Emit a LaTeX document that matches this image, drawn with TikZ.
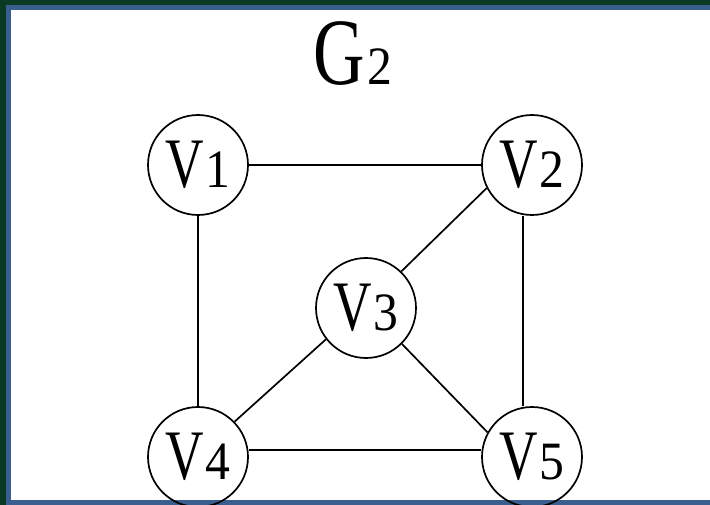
\documentclass[tikz,border=0pt]{standalone}
\usepackage{fontspec}
\setmainfont{Liberation Serif}
\usepackage{tikz}
\usetikzlibrary{positioning, calc}
\usepackage{xcolor}
\definecolor{framegreen}{RGB}{8,58,36}
\definecolor{frameblue}{RGB}{58,94,142}
\newcommand{\dig}[1]{\scalebox{0.92}[1]{\fontsize{54}{54}\selectfont #1}}
\newcommand{\vlab}[1]{\scalebox{0.75}[1]{\fontsize{71}{71}\selectfont V}\hspace{2pt}\dig{#1}}

\begin{document}
\begin{tikzpicture}[x=1pt, y=-1pt,
  vert/.style={circle, draw, line width=1.7pt, minimum size=100pt, inner sep=0pt},
  edge/.style={line width=1.7pt}]
  % frame
  \useasboundingbox (0,0) rectangle (710,505);
  \fill[framegreen] (0,0) rectangle (710,505);
  \fill[frameblue] (6,5) rectangle (710,505);
  \fill[white] (11,10) rectangle (710,500);
  % title
  \node[anchor=base, inner sep=0pt] (title) at (353,85)
    {\scalebox{0.75}[1]{\fontsize{95}{95}\selectfont G}\hspace{3pt}\dig{2}};
  % vertices
  \foreach \n/\x/\y in {1/198/165, 2/532/165, 3/366/308, 4/198/457, 5/532/457} {
    \node[vert] (v\n) at (\x,\y) {\vlab{\n}};
  }
  % edges
  \draw[edge] (v1.east) -- (v2.west);
  \draw[edge] (v1.south) -- (v4.north);
  \draw[edge] ([xshift=-9pt]v2.south) -- ([xshift=-9pt]v5.north);
  \draw[edge] ([yshift=7pt]v4.east) -- ([yshift=7pt]v5.west);
  \draw[edge] (v2.207) -- (v3.46);
  \draw[edge] (v3.218) -- (v4.44);
  \draw[edge] (v3.315) -- (v5.151);
\end{tikzpicture}
\end{document}
